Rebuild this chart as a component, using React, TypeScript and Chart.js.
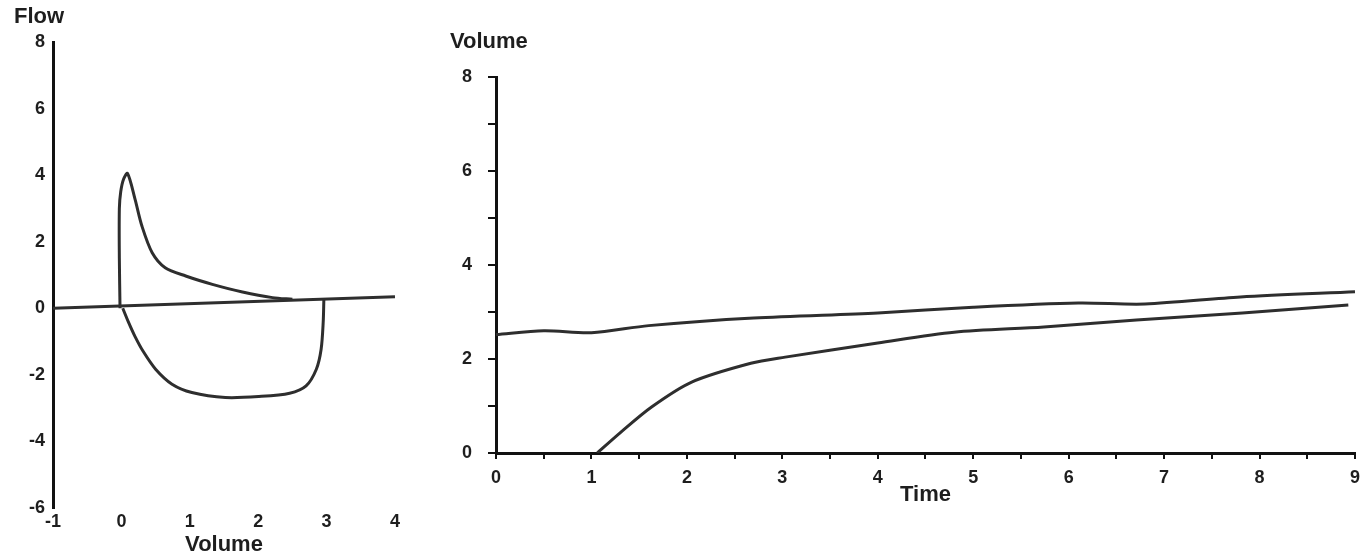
import React, { useEffect, useRef } from "react";
import { Chart, registerables } from "chart.js";

Chart.register(...registerables);

// ---- Left chart: flow–volume loop ----
const loopVolTicks = [-1, 0, 1, 2, 3, 4];
const loopFlowTicks = [-6, -4, -2, 0, 2, 4, 6, 8];

const baseVol = [-1, 4];
const baseFlow = [0, 0.35];

const expVol = [-0.02, -0.03, -0.03, -0.01, 0.03, 0.09, 0.2, 0.3, 0.45, 0.64, 0.94, 1.33, 1.77, 2.21, 2.5];
const expFlow = [0.0, 1.5, 3.0, 3.5, 3.87, 4.05, 3.27, 2.47, 1.67, 1.22, 0.97, 0.72, 0.49, 0.32, 0.27];

const inspVol = [0.02, 0.1, 0.2, 0.32, 0.5, 0.74, 1.03, 1.52, 2.01, 2.46, 2.7, 2.85, 2.92, 2.95, 2.96];
const inspFlow = [0.0, -0.4, -0.85, -1.3, -1.83, -2.28, -2.53, -2.68, -2.65, -2.55, -2.33, -1.83, -1.23, -0.43, 0.27];

// ---- Right chart: volume–time ----
const timeTicks = [0, 1, 2, 3, 4, 5, 6, 7, 8, 9];
const volTicks = [0, 2, 4, 6, 8];

const timeA = [0, 0.5, 1.0, 1.6, 2.7, 4.0, 5.0, 6.1, 6.8, 7.8, 9.0];
const volA = [2.52, 2.6, 2.56, 2.71, 2.87, 2.98, 3.1, 3.19, 3.17, 3.32, 3.43];

const timeB = [1.06, 1.3, 1.63, 2.05, 2.67, 3.03, 4.0, 4.8, 5.74, 6.71, 7.82, 8.93];
const volB = [0, 0.43, 0.98, 1.51, 1.91, 2.04, 2.34, 2.57, 2.68, 2.83, 2.98, 3.15];

const toPts = (xs: number[], ys: number[]) => xs.map((x, i) => ({ x, y: ys[i] }));

const FAMILY = "'Liberation Sans', Arial, sans-serif";
const TICK_FONT = { family: FAMILY, size: 18, weight: "bold" as const };
const TITLE_FONT = { family: FAMILY, size: 22, weight: "bold" as const };
const INK = "#1e1e1e";
const LINE = "#2e2e2e";

const captionPlugin = {
  id: "captions",
  afterDraw(chart: any, _args: any, opts: any) {
    const ctx = chart.ctx;
    ctx.save();
    ctx.fillStyle = INK;
    ctx.font = `bold 22px ${FAMILY}`;
    ctx.textAlign = "left";
    ctx.textBaseline = "middle";
    (opts.items || []).forEach((it: any) => ctx.fillText(it.text, it.x, it.y));
    ctx.restore();
  },
};

const lineDs = (data: any[]) => ({
  data,
  showLine: true,
  borderColor: LINE,
  borderWidth: 3,
  pointRadius: 0,
  tension: 0.3,
  fill: false,
});

export default function App() {
  const leftRef = useRef<HTMLCanvasElement>(null);
  const rightRef = useRef<HTMLCanvasElement>(null);

  useEffect(() => {
    const left = new Chart(leftRef.current!, {
      type: "scatter",
      data: {
        datasets: [
          { ...lineDs(toPts(baseVol, baseFlow)), tension: 0 },
          lineDs(toPts(expVol, expFlow)),
          lineDs(toPts(inspVol, inspFlow)),
        ],
      },
      plugins: [captionPlugin],
      options: {
        responsive: false,
        animation: false,
        devicePixelRatio: 1,
        layout: { padding: { top: 42, right: 25, left: 0, bottom: 0 } },
        plugins: {
          legend: { display: false },
          tooltip: { enabled: false },
          captions: { items: [{ text: "Flow", x: 14, y: 17 }] },
        } as any,
        scales: {
          x: {
            type: "linear",
            min: -1,
            max: 4,
            afterBuildTicks: (s: any) => { s.ticks = loopVolTicks.map((v) => ({ value: v })); },
            ticks: { font: TICK_FONT, color: INK, padding: 3 },
            grid: { display: false, drawTicks: false },
            border: { display: false },
            title: { display: true, text: "Volume", font: TITLE_FONT, color: INK, padding: { top: 0, bottom: 0 } },
            afterFit: (s: any) => { s.height = 50; },
          },
          y: {
            type: "linear",
            min: -6,
            max: 8,
            afterBuildTicks: (s: any) => { s.ticks = loopFlowTicks.map((v) => ({ value: v })); },
            ticks: { font: TICK_FONT, color: INK, padding: 8 },
            grid: { display: false, drawTicks: false },
            border: { display: true, color: "#111", width: 3 },
            afterFit: (s: any) => { s.width = 53; },
          },
        },
      } as any,
    });

    const right = new Chart(rightRef.current!, {
      type: "scatter",
      data: {
        datasets: [lineDs(toPts(timeA, volA)), lineDs(toPts(timeB, volB))],
      },
      plugins: [captionPlugin],
      options: {
        responsive: false,
        animation: false,
        devicePixelRatio: 1,
        layout: { padding: { top: 77, right: 8, left: 0, bottom: 50 } },
        plugins: {
          legend: { display: false },
          tooltip: { enabled: false },
          captions: { items: [{ text: "Volume", x: 30, y: 42 }] },
        } as any,
        scales: {
          x: {
            type: "linear",
            min: 0,
            max: 9,
            ticks: {
              stepSize: 0.5,
              autoSkip: false,
              font: TICK_FONT,
              color: INK,
              padding: 8,
              maxRotation: 0,
              callback: (v: any) => (timeTicks.includes(Number(v)) ? String(v) : ""),
            },
            grid: { display: true, drawOnChartArea: false, drawTicks: true, tickLength: 6, color: "#111", lineWidth: 2 },
            border: { display: true, color: "#111", width: 3 },
            title: { display: true, text: "Time", font: TITLE_FONT, color: INK, padding: { top: 0, bottom: 0 } },
            afterFit: (s: any) => { s.height = 55; },
          },
          y: {
            type: "linear",
            min: 0,
            max: 8,
            ticks: {
              stepSize: 1,
              autoSkip: false,
              font: TICK_FONT,
              color: INK,
              padding: 16,
              callback: (v: any) => (volTicks.includes(Number(v)) ? String(v) : ""),
            },
            grid: { display: true, drawOnChartArea: false, drawTicks: true, tickLength: 8, color: "#111", lineWidth: 2 },
            border: { display: true, color: "#111", width: 3 },
            afterFit: (s: any) => { s.width = 76; },
          },
        },
      } as any,
    });

    return () => {
      left.destroy();
      right.destroy();
    };
  }, []);

  return (
    <div style={{ position: "fixed", left: 0, top: 0, width: 1368, height: 558, background: "#fff" }}>
      <canvas ref={leftRef} width={420} height={558} style={{ position: "absolute", left: 0, top: 0 }} />
      <canvas ref={rightRef} width={948} height={558} style={{ position: "absolute", left: 420, top: 0 }} />
    </div>
  );
}
